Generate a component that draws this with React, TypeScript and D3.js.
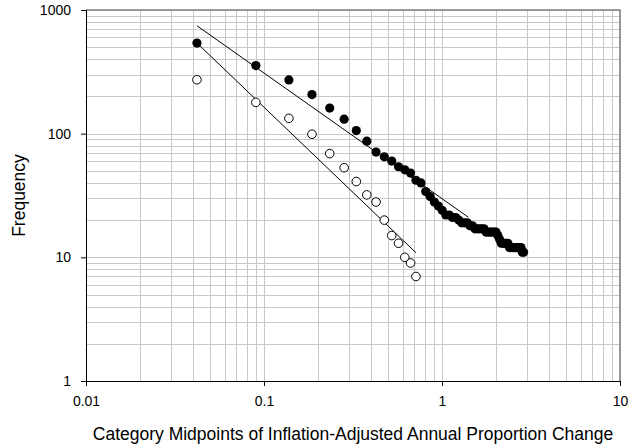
import React, { useRef, useEffect } from 'react';
import * as d3 from 'd3';

// category midpoints (proportion change)
const filledX = [
  0.042, 0.09, 0.138, 0.186, 0.234, 0.282, 0.33, 0.378, 0.426, 0.474,
  0.522, 0.57, 0.618, 0.666, 0.714, 0.762, 0.81, 0.858, 0.906, 0.954,
  1.002, 1.05, 1.098, 1.146, 1.194, 1.242, 1.29, 1.338, 1.386, 1.434,
  1.482, 1.53, 1.578, 1.626, 1.674, 1.722, 1.77, 1.818, 1.866, 1.914,
  1.962, 2.01, 2.058, 2.106, 2.154, 2.202, 2.25, 2.298, 2.346, 2.394,
  2.442, 2.49, 2.538, 2.586, 2.634, 2.682, 2.73, 2.778, 2.826, 2.874,
];
const filledY = [
  540, 355, 272, 207, 161, 131, 106, 87, 71, 65,
  60, 54, 51, 48, 42, 40, 34, 31, 28, 26,
  24, 22, 22, 21, 21, 20, 19, 19, 19, 18,
  18, 17, 17, 17, 17, 17, 16, 16, 16, 16,
  16, 16, 15, 14, 13, 13, 13, 13, 13, 12,
  12, 12, 12, 12, 12, 12, 12, 12, 11, 11,
];
const hollowX = [
  0.042, 0.09, 0.138, 0.186, 0.234, 0.282, 0.33, 0.378, 0.426, 0.474,
  0.522, 0.57, 0.618, 0.666, 0.714,
];
const hollowY = [273, 179, 133, 99, 69, 53, 41, 32, 28, 20, 15, 13, 10, 9, 7];

// fitted power-law lines (end points)
const filledFitX = [0.042, 1.406];
const filledFitY = [746, 21.1];
const hollowFitX = [0.042, 0.714];
const hollowFitY = [541, 10.9];

const xTicks = [0.01, 0.1, 1, 10];
const yTicks = [1, 10, 100, 1000];

const FONT = 'Liberation Sans, Arial, sans-serif';

export default function App() {
  const svgRef = useRef<SVGSVGElement>(null);

  useEffect(() => {
    const w = 641;
    const h = 448;
    const m = { left: 86, right: 620, top: 10, bottom: 381 };
    const svg = d3.select(svgRef.current);
    svg.selectAll('*').remove();
    svg.attr('width', w).attr('height', h);

    const x = d3.scaleLog().domain([0.01, 10]).range([m.left, m.right]);
    const y = d3.scaleLog().domain([1, 1000]).range([m.bottom, m.top]);

    // grid (major + minor decades)
    const minor = (lo: number, hi: number) => {
      const out: number[] = [];
      for (let d = lo; d < hi; d *= 10) for (let k = 1; k <= 10; k++) out.push(d * k);
      return out;
    };
    const grid = svg.append('g').attr('stroke', '#c8c8c8').attr('stroke-width', 1);
    grid.selectAll('.vx')
      .data(minor(0.01, 10))
      .join('line')
      .attr('x1', (d) => Math.round(x(d)) + 0.5)
      .attr('x2', (d) => Math.round(x(d)) + 0.5)
      .attr('y1', m.top)
      .attr('y2', m.bottom);
    grid.selectAll('.hy')
      .data(minor(1, 1000))
      .join('line')
      .attr('y1', (d) => Math.round(y(d)) + 0.5)
      .attr('y2', (d) => Math.round(y(d)) + 0.5)
      .attr('x1', m.left)
      .attr('x2', m.right);

    // top and right frame
    svg.append('path')
      .attr('d', `M${m.left},${m.top}H${m.right}V${m.bottom}`)
      .attr('fill', 'none')
      .attr('stroke', '#808080')
      .attr('stroke-width', 1.5);

    // axes
    const fmt = (d: d3.NumberValue) => String(+d);
    const xAxis = d3.axisBottom(x).tickValues(xTicks).tickFormat(fmt).tickSize(5).tickPadding(10);
    const yAxis = d3.axisLeft(y).tickValues(yTicks).tickFormat(fmt).tickSize(5).tickPadding(10);
    const gx = svg.append('g').attr('transform', `translate(0,${m.bottom})`).call(xAxis);
    const gy = svg.append('g').attr('transform', `translate(${m.left},0)`).call(yAxis);
    [gx, gy].forEach((g) => {
      g.selectAll('text').attr('font-family', FONT).attr('font-size', 14).attr('fill', '#000');
      g.selectAll('line').attr('stroke', '#000');
      g.select('.domain').attr('stroke', '#000');
    });

    // fit lines
    const line = d3.line<[number, number]>().x((d) => x(d[0])).y((d) => y(d[1]));
    [[filledFitX, filledFitY], [hollowFitX, hollowFitY]].forEach(([fx, fy]) => {
      svg.append('path')
        .attr('d', line(fx.map((v, i) => [v, fy[i]] as [number, number])))
        .attr('fill', 'none')
        .attr('stroke', '#000')
        .attr('stroke-width', 1);
    });

    // points
    svg.append('g')
      .selectAll('circle')
      .data(hollowX.map((v, i) => [v, hollowY[i]]))
      .join('circle')
      .attr('cx', (d) => x(d[0]))
      .attr('cy', (d) => y(d[1]))
      .attr('r', 4.3)
      .attr('fill', '#fff')
      .attr('stroke', '#000')
      .attr('stroke-width', 1);
    svg.append('g')
      .selectAll('circle')
      .data(filledX.map((v, i) => [v, filledY[i]]))
      .join('circle')
      .attr('cx', (d) => x(d[0]))
      .attr('cy', (d) => y(d[1]))
      .attr('r', 4.6)
      .attr('fill', '#000');

    // titles
    svg.append('text')
      .attr('x', (m.left + m.right) / 2)
      .attr('y', 440)
      .attr('text-anchor', 'middle')
      .attr('font-family', FONT)
      .attr('font-size', 17.5)
      .text('Category Midpoints of Inflation-Adjusted Annual Proportion Change');
    svg.append('text')
      .attr('transform', `translate(25,${(m.top + m.bottom) / 2}) rotate(-90)`)
      .attr('text-anchor', 'middle')
      .attr('font-family', FONT)
      .attr('font-size', 17.5)
      .text('Frequency');
  }, []);

  return <svg ref={svgRef} style={{ position: 'absolute', left: 0, top: 0 }}></svg>;
}
